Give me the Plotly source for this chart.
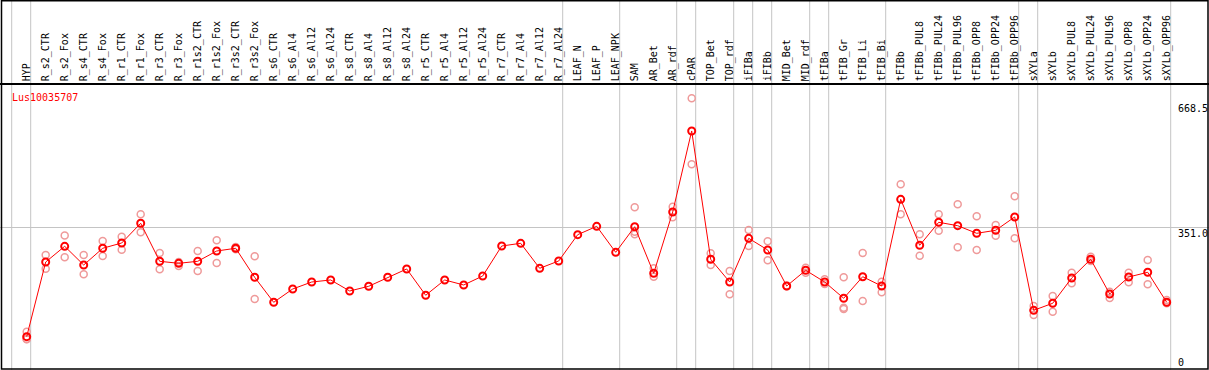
import plotly.graph_objects as go

gene = "Lus10035707"

categories = [
    "HYP", "R_s2_CTR", "R_s2_Fox", "R_s4_CTR", "R_s4_Fox", "R_r1_CTR", "R_r1_Fox",
    "R_r3_CTR", "R_r3_Fox", "R_r1s2_CTR", "R_r1s2_Fox", "R_r3s2_CTR", "R_r3s2_Fox",
    "R_s6_CTR", "R_s6_Al4", "R_s6_Al12", "R_s6_Al24", "R_s8_CTR", "R_s8_Al4",
    "R_s8_Al12", "R_s8_Al24", "R_r5_CTR", "R_r5_Al4", "R_r5_Al12", "R_r5_Al24",
    "R_r7_CTR", "R_r7_Al4", "R_r7_Al12", "R_r7_Al24", "LEAF_N", "LEAF_P", "LEAF_NPK",
    "SAM", "AR_Bet", "AR_rdf", "cPAR", "TOP_Bet", "TOP_rdf", "iFIBa", "iFIBb",
    "MID_Bet", "MID_rdf", "tFIBa", "tFIB_Gr", "tFIB_Li", "tFIB_Bi", "tFIBb",
    "tFIBb_PUL8", "tFIBb_PUL24", "tFIBb_PUL96", "tFIBb_OPP8", "tFIBb_OPP24", "tFIBb_OPP96",
    "sXYLa", "sXYLb", "sXYLb_PUL8", "sXYLb_PUL24", "sXYLb_PUL96", "sXYLb_OPP8",
    "sXYLb_OPP24", "sXYLb_OPP96",
]

means = [
    74.6, 264.0, 303.8, 256.4, 298.8, 312.2, 362.2, 265.8, 260.7, 265.8, 291.9, 298.8, 225.2,
    161.8, 195.5, 213.3, 218.4, 190.5, 202.4, 225.2, 246.3, 179.6, 218.4, 205.7, 228.5,
    304.6, 311.4, 248.0, 266.6, 333.3, 354.5, 288.6,
    353.5, 235.4, 390.8, 596.3, 270.9, 213.3, 324.1, 294.5,
    203.1, 243.0, 213.3, 172.0, 226.7, 203.1, 423.0,
    306.4, 364.7, 356.1, 336.8, 344.4, 378.2,
    141.5, 159.3, 223.4, 270.9, 182.9, 226.0, 237.9, 161.8,
]

rep1 = [
    87.2, 281.8, 331.5, 281.8, 317.3, 328.2, 385.0, 286.8, 264.0, 291.9, 319.1, 302.1, 278.5,
    None, None, None, None, None, None, None, None, None, None, None, None,
    None, None, None, None, None, None, None,
    402.7, 248.0, 404.3, 679.2, 286.1, 241.2, 345.2, 316.5,
    203.5, 249.6, 220.1, 225.2, 286.8, 214.1, 461.1,
    334.3, 385.0, 410.4, 379.9, 357.9, 430.6,
    152.4, 177.8, 236.9, 277.5, 188.7, 236.9, 269.1, 167.6,
]

rep2 = [
    68.0, 247.0, 275.9, 232.8, 279.2, 295.2, 339.3, 245.5, 253.9, 241.2, 261.5, 296.2, 170.2,
    None, None, None, None, None, None, None, None, None, None, None, None,
    None, None, None, None, None, None, None,
    340.9, 226.7, 377.4, 511.8, 256.4, 182.1, 304.6, 268.3,
    202.7, 236.5, 208.2, 148.1, 165.1, 187.2, 385.0,
    280.0, 343.4, 301.3, 294.5, 330.7, 324.1,
    129.6, 138.0, 210.0, 266.6, 172.7, 212.5, 207.5, 159.3,
]

rep3 = [
    69.0, None, None, None, None, None, None, None, None, None, None, None, None,
    None, None, None, None, None, None, None, None, None, None, None, None,
    None, None, None, None, None, None, None,
    334.5, None, None, None, None, None, None, None,
    None, None, None, 144.8, None, None, None,
    None, None, None, None, None, None,
    None, None, None, None, None, None, None, None,
]

separators_after = [-1, 0, 28, 31, 34, 35, 37, 38, 39, 41, 42, 45, 52, 53, 60]
grid_values = [351.0]
ytick_vals = [0, 351.0, 668.5]
ytick_text = ["0", "351.0", "668.5"]

W, H = 1209, 370
FONT = "DejaVu Sans Mono"
x = list(range(len(categories)))

# pixel geometry
px_x0, px_step = 26.7, 19.0          # pixel x of first category, pixel step
header_px = 85                       # header / plot boundary
y0_px, k = 366.1, 0.3943             # pixel y of value 0, pixels per unit

x_range = [-px_x0 / px_step, (W - px_x0) / px_step]
y_range = [(y0_px - H) / k, (y0_px - header_px) / k]

fig = go.Figure()

for reps in (rep1, rep2, rep3):
    fig.add_trace(go.Scatter(
        x=x, y=reps, mode="markers",
        marker=dict(symbol="circle-open", size=7, color="#ef9a9a", line=dict(width=1.5, color="#ef9a9a")),
        hoverinfo="skip", showlegend=False, cliponaxis=False,
    ))

fig.add_trace(go.Scatter(
    x=x, y=means, mode="lines+markers",
    line=dict(color="#ff0000", width=1),
    marker=dict(symbol="circle-open", size=7, color="#ff0000", line=dict(width=2, color="#ff0000")),
    showlegend=False,
))

shapes = []
for i in separators_after:
    shapes.append(dict(type="line", xref="x", yref="paper", x0=i + 4 / px_step, x1=i + 4 / px_step,
                       y0=0, y1=1, line=dict(color="#c4c4c4", width=1), layer="below"))
# outer border
shapes.append(dict(type="rect", xref="paper", yref="paper",
                   x0=1.5 / W, x1=1208 / W, y0=1 - 369 / H, y1=1 - 0.7 / H,
                   line=dict(color="black", width=1.5), layer="above"))

annotations = [dict(
    text=gene, xref="paper", yref="paper", x=10 / W, y=1 - 97 / H,
    xanchor="left", yanchor="middle", showarrow=False,
    font=dict(family=FONT, size=10, color="#ff0000"),
)]
for v, t in zip(ytick_vals, ytick_text):
    annotations.append(dict(
        text=t, xref="paper", yref="y", x=1176 / W, y=v,
        xanchor="left", yanchor="bottom" if v == 0 else "top",
        yshift=-4 if v == 0 else 2,
        showarrow=False, font=dict(family=FONT, size=10, color="black"),
    ))

fig.update_layout(
    width=W, height=H,
    margin=dict(l=0, r=0, t=0, b=0),
    paper_bgcolor="white", plot_bgcolor="white",
    showlegend=False,
    xaxis=dict(
        range=x_range, side="top", tickmode="array", tickvals=x, ticktext=categories,
        tickangle=-90, tickfont=dict(family=FONT, size=10, color="black"),
        showgrid=False, zeroline=False, showline=True, linecolor="black", linewidth=1.5,
        ticks="", fixedrange=True,
    ),
    yaxis=dict(
        domain=[0, (H - header_px) / H], range=y_range,
        tickmode="array", tickvals=grid_values, showticklabels=False,
        showgrid=True, gridcolor="#c4c4c4", gridwidth=1, zeroline=False,
        showline=False, ticks="", fixedrange=True,
    ),
    shapes=shapes,
    annotations=annotations,
)

fig.write_html(
    "out.html",
    config={"displayModeBar": False},
    post_script="document.body.style.margin='0';document.body.style.padding='0';document.body.style.overflow='hidden';",
)
